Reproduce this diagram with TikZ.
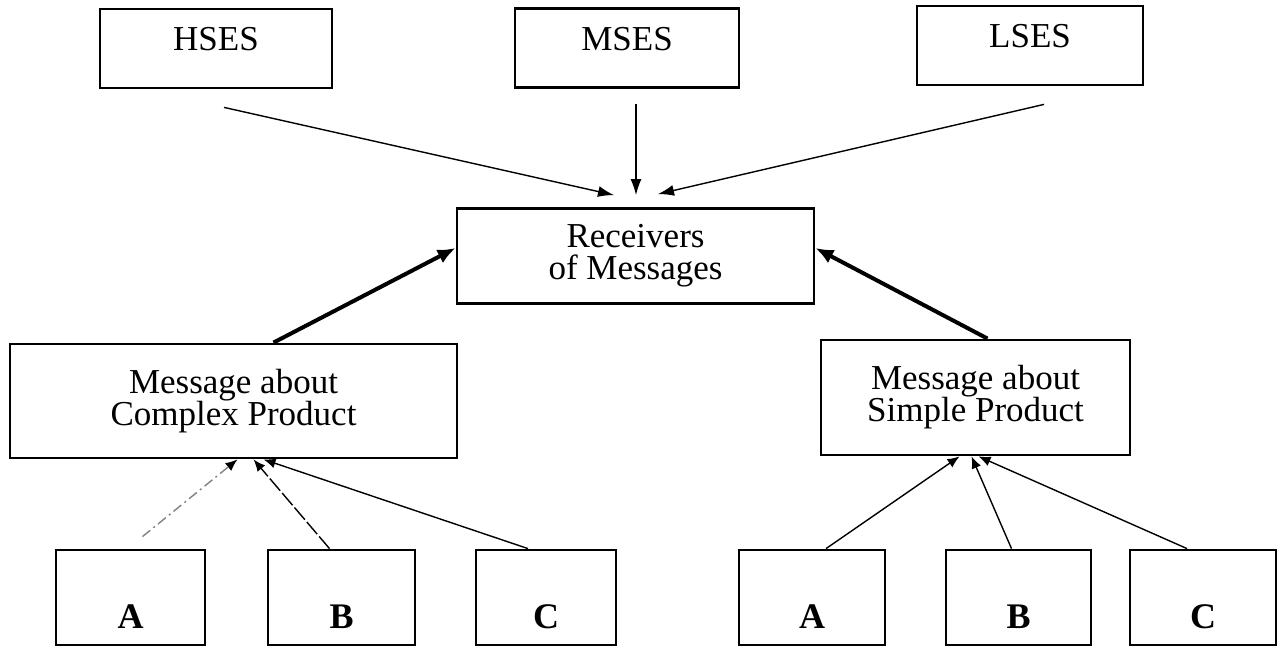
\documentclass[tikz,border=0pt]{standalone}
\usepackage{fontspec}
\setmainfont{Liberation Serif}
\usetikzlibrary{arrows.meta}
\tikzset{
  box/.style={draw, rectangle, line width=1.4pt, inner sep=2pt, font=\fontsize{17.5}{16}\selectfont},
  topbox/.style={box, text height=11pt, text depth=8.5pt, minimum height=39.5pt},
  msgbox/.style={box, align=center},
  letterbox/.style={box, font=\fontsize{18}{15}\selectfont\bfseries, text height=31pt, text depth=0.5pt, minimum height=47.5pt},
  thinarrow/.style={line width=0.7pt, -{Latex[length=8pt,width=5.5pt]}},
  thickarrow/.style={line width=2pt, -{Latex[length=9pt,width=7.5pt]}},
  feedarrow/.style={line width=0.7pt, -{Latex[length=6pt,width=5pt,color=black]}}
}
\begin{document}
\begin{tikzpicture}[x=0.5pt,y=-0.5pt]
\useasboundingbox (0,0) rectangle (1278,647);
\node[topbox, minimum width=116pt] (hses) at (216,48.5) {HSES};
\node[topbox, minimum width=112pt] (mses) at (627,48) {MSES};
\node[topbox, minimum width=113pt] (lses) at (1030,45.5) {LSES};
\node[msgbox, minimum width=178.5pt, minimum height=47.5pt] (recv) at (635.5,256) {Receivers\\of Messages};
\node[msgbox, minimum width=223.5pt, minimum height=57pt] (cpx) at (233.5,401) {Message about\\Complex Product};
\node[msgbox, minimum width=154.5pt, minimum height=57.5pt] (spl) at (975.5,397.5) {Message about\\Simple Product};
\node[letterbox, minimum width=74.5pt] (a1) at (130.5,597.5) {A};
\node[letterbox, minimum width=73.5pt] (b1) at (341.5,597.5) {B};
\node[letterbox, minimum width=70pt] (c1) at (546,597.5) {C};
\node[letterbox, minimum width=73pt] (a2) at (812,597.5) {A};
\node[letterbox, minimum width=72.5pt] (b2) at (1018.5,597.5) {B};
\node[letterbox, minimum width=73pt] (c2) at (1203,597.5) {C};
\draw[thinarrow] ([xshift=4pt,yshift=-9pt]hses.south) -- ([xshift=-10.75pt,yshift=6pt]recv.north);
\draw[thinarrow] ([xshift=4.5pt,yshift=-7.5pt]mses.south) -- ([xshift=0.25pt,yshift=6pt]recv.north);
\draw[thinarrow] ([xshift=7pt,yshift=-9pt]lses.south) -- ([xshift=11.25pt,yshift=6.5pt]recv.north);
\draw[thickarrow] ([xshift=20pt]cpx.north) -- ([yshift=4pt]recv.west);
\draw[thickarrow] ([xshift=6pt]spl.north) -- ([yshift=4pt]recv.east);
\draw[feedarrow, gray, dash pattern=on 5pt off 2pt on 1pt off 2pt] ([xshift=6pt,yshift=6pt]a1.north) -- ([xshift=2pt]cpx.south);
\draw[feedarrow, dash pattern=on 8pt off 1.5pt] ([xshift=-6pt]b1.north) -- ([xshift=10pt]cpx.south);
\draw[feedarrow] ([xshift=-9pt]c1.north) -- ([xshift=15pt]cpx.south);
\draw[feedarrow] ([xshift=7pt]a2.north) -- ([xshift=-8pt]spl.south);
\draw[feedarrow] ([xshift=-3.5pt]b2.north) -- ([xshift=-2pt]spl.south);
\draw[feedarrow] ([xshift=-8pt]c2.north) -- ([xshift=1.5pt]spl.south);
\end{tikzpicture}
\end{document}
